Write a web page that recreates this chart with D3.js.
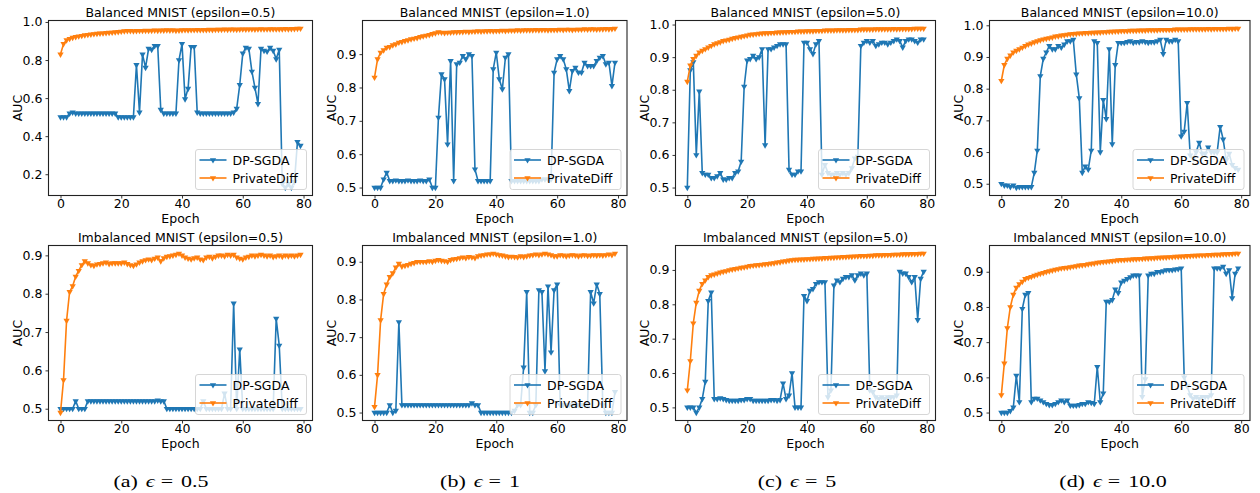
<!DOCTYPE html>
<html>
<head>
<meta charset="utf-8">
<script src="https://cdn.jsdelivr.net/npm/d3@7"></script>
<style>
  body { margin: 0; background: #fff; }
  svg text { font-family: "DejaVu Sans", sans-serif; fill: #000; }
  svg text.caption { font-family: "Liberation Serif", "DejaVu Serif", serif; }
</style>
</head>
<body>
<svg id="chart" width="1260" height="493"></svg>
<script>
'use strict';

// ---- data ----
var titles = [
  'Balanced MNIST (epsilon=0.5)', 'Balanced MNIST (epsilon=1.0)',
  'Balanced MNIST (epsilon=5.0)', 'Balanced MNIST (epsilon=10.0)',
  'Imbalanced MNIST (epsilon=0.5)', 'Imbalanced MNIST (epsilon=1.0)',
  'Imbalanced MNIST (epsilon=5.0)', 'Imbalanced MNIST (epsilon=10.0)'
];
var captionLabels = ['(a)', '(b)', '(c)', '(d)'];
var captionValues = ['0.5', '1', '5', '10.0'];
var seriesNames = ['DP-SGDA', 'PrivateDiff'];
var xTicks = [0, 20, 40, 60, 80];
var yTicks = [
  [0.2, 0.4, 0.6, 0.8, 1.0], [0.5, 0.6, 0.7, 0.8, 0.9],
  [0.5, 0.6, 0.7, 0.8, 0.9, 1.0], [0.5, 0.6, 0.7, 0.8, 0.9, 1.0],
  [0.5, 0.6, 0.7, 0.8, 0.9], [0.5, 0.6, 0.7, 0.8, 0.9],
  [0.5, 0.6, 0.7, 0.8, 0.9], [0.5, 0.6, 0.7, 0.8, 0.9]
];

// Balanced MNIST
var dpBal05 = [0.50,0.50,0.50,0.52,0.525,0.52,0.52,0.52,0.52,0.52,
  0.52,0.52,0.52,0.52,0.52,0.52,0.52,0.52,0.52,0.50,
  0.50,0.50,0.50,0.50,0.50,0.775,0.525,0.83,0.76,0.86,
  0.855,0.875,0.875,0.54,0.52,0.52,0.52,0.52,0.52,0.80,
  0.885,0.595,0.65,0.87,0.87,0.525,0.52,0.52,0.52,0.52,
  0.52,0.52,0.52,0.52,0.52,0.52,0.52,0.525,0.545,0.67,
  0.835,0.865,0.86,0.74,0.655,0.57,0.86,0.85,0.845,0.865,
  0.85,0.805,0.855,0.15,0.13,0.15,0.13,0.16,0.37,0.35];
var pdBal05 = [0.830,0.885,0.905,0.912,0.918,0.922,0.925,0.928,0.931,0.933,
  0.935,0.937,0.939,0.940,0.941,0.943,0.944,0.945,0.947,0.948,
  0.950,0.952,0.953,0.953,0.952,0.953,0.954,0.954,0.955,0.954,
  0.955,0.956,0.955,0.956,0.956,0.957,0.956,0.957,0.955,0.956,
  0.957,0.958,0.957,0.958,0.958,0.959,0.958,0.959,0.959,0.960,
  0.959,0.960,0.960,0.960,0.961,0.960,0.961,0.961,0.960,0.961,
  0.962,0.961,0.962,0.962,0.961,0.962,0.963,0.962,0.962,0.963,
  0.963,0.962,0.963,0.963,0.964,0.963,0.964,0.964,0.965,0.966];

var dpBal1 = [0.50,0.50,0.50,0.525,0.545,0.52,0.52,0.522,0.52,0.52,
  0.52,0.522,0.52,0.52,0.52,0.522,0.52,0.52,0.525,0.50,
  0.50,0.71,0.84,0.825,0.63,0.88,0.52,0.87,0.875,0.895,
  0.885,0.90,0.895,0.555,0.52,0.52,0.52,0.52,0.52,0.855,
  0.905,0.825,0.795,0.89,0.90,0.52,0.52,0.52,0.52,0.52,
  0.52,0.52,0.52,0.52,0.52,0.525,0.525,0.525,0.525,0.845,
  0.885,0.895,0.885,0.855,0.79,0.85,0.86,0.845,0.845,0.875,
  0.865,0.865,0.865,0.88,0.89,0.895,0.87,0.875,0.805,0.875];
var pdBal1 = [0.830,0.885,0.905,0.912,0.920,0.922,0.927,0.930,0.935,0.937,
  0.940,0.942,0.945,0.947,0.949,0.952,0.954,0.956,0.958,0.961,
  0.963,0.966,0.965,0.964,0.965,0.965,0.966,0.966,0.967,0.967,
  0.968,0.967,0.968,0.968,0.969,0.968,0.969,0.969,0.970,0.969,
  0.970,0.970,0.971,0.970,0.971,0.971,0.971,0.972,0.971,0.972,
  0.972,0.972,0.972,0.973,0.972,0.973,0.973,0.972,0.973,0.973,
  0.973,0.974,0.973,0.974,0.974,0.973,0.974,0.974,0.974,0.975,
  0.974,0.975,0.975,0.974,0.975,0.975,0.976,0.975,0.976,0.977];

var dpBal5 = [0.50,0.86,0.885,0.60,0.795,0.545,0.54,0.54,0.53,0.53,
  0.535,0.545,0.525,0.525,0.53,0.53,0.545,0.55,0.58,0.81,
  0.89,0.895,0.905,0.895,0.90,0.925,0.63,0.925,0.925,0.93,
  0.935,0.94,0.94,0.94,0.555,0.54,0.54,0.55,0.55,0.945,
  0.945,0.925,0.91,0.94,0.95,0.54,0.57,0.545,0.54,0.54,
  0.545,0.54,0.545,0.54,0.545,0.56,0.59,0.595,0.935,0.945,
  0.95,0.945,0.95,0.935,0.94,0.945,0.945,0.94,0.945,0.95,
  0.955,0.95,0.93,0.95,0.955,0.955,0.95,0.945,0.955,0.955];
var pdBal5 = [0.825,0.875,0.895,0.905,0.915,0.920,0.925,0.930,0.935,0.940,
  0.943,0.946,0.950,0.952,0.954,0.957,0.959,0.961,0.963,0.965,
  0.967,0.969,0.970,0.971,0.972,0.973,0.974,0.974,0.975,0.975,
  0.976,0.976,0.977,0.977,0.978,0.978,0.978,0.979,0.979,0.979,
  0.980,0.980,0.980,0.981,0.981,0.981,0.982,0.982,0.982,0.982,
  0.983,0.983,0.983,0.983,0.984,0.984,0.984,0.984,0.985,0.985,
  0.985,0.985,0.985,0.986,0.986,0.986,0.986,0.986,0.986,0.987,
  0.986,0.987,0.987,0.987,0.987,0.987,0.988,0.988,0.988,0.988];

var dpBal10 = [0.50,0.495,0.495,0.49,0.495,0.488,0.49,0.49,0.49,0.49,
  0.49,0.535,0.605,0.84,0.895,0.915,0.935,0.925,0.925,0.935,
  0.93,0.94,0.95,0.95,0.955,0.845,0.77,0.535,0.555,0.545,
  0.605,0.95,0.945,0.60,0.765,0.705,0.925,0.625,0.875,0.945,
  0.945,0.945,0.948,0.95,0.945,0.948,0.947,0.95,0.948,0.945,
  0.948,0.947,0.95,0.955,0.91,0.955,0.95,0.95,0.955,0.95,
  0.65,0.665,0.755,0.59,0.58,0.60,0.63,0.595,0.595,0.615,
  0.60,0.60,0.60,0.68,0.64,0.575,0.595,0.56,0.55,0.545];
var pdBal10 = [0.825,0.875,0.895,0.905,0.915,0.920,0.925,0.930,0.935,0.940,
  0.943,0.947,0.950,0.953,0.956,0.958,0.960,0.962,0.965,0.966,
  0.968,0.969,0.971,0.972,0.973,0.974,0.975,0.975,0.976,0.976,
  0.977,0.977,0.978,0.978,0.979,0.979,0.980,0.980,0.981,0.981,
  0.982,0.982,0.982,0.983,0.983,0.983,0.984,0.984,0.984,0.985,
  0.985,0.985,0.985,0.986,0.986,0.986,0.986,0.986,0.987,0.987,
  0.987,0.987,0.987,0.988,0.988,0.988,0.988,0.988,0.988,0.989,
  0.988,0.989,0.989,0.989,0.989,0.989,0.990,0.989,0.990,0.990];

// Imbalanced MNIST
var dpImb05 = [0.50,0.50,0.50,0.50,0.50,0.52,0.50,0.50,0.50,0.52,
  0.52,0.52,0.52,0.52,0.52,0.52,0.52,0.52,0.52,0.52,
  0.52,0.52,0.52,0.52,0.52,0.52,0.52,0.52,0.52,0.52,
  0.52,0.52,0.522,0.52,0.52,0.50,0.50,0.50,0.50,0.50,
  0.50,0.50,0.50,0.50,0.50,0.50,0.50,0.52,0.50,0.50,
  0.50,0.50,0.50,0.50,0.54,0.50,0.50,0.775,0.50,0.655,
  0.50,0.50,0.50,0.50,0.50,0.50,0.50,0.50,0.50,0.50,
  0.50,0.735,0.665,0.50,0.50,0.50,0.50,0.50,0.50,0.50];
var pdImb05 = [0.490,0.575,0.730,0.805,0.820,0.845,0.860,0.875,0.885,0.880,
  0.875,0.873,0.877,0.878,0.880,0.882,0.878,0.880,0.880,0.880,
  0.880,0.882,0.878,0.875,0.873,0.877,0.882,0.885,0.888,0.890,
  0.888,0.892,0.895,0.885,0.893,0.897,0.898,0.900,0.902,0.905,
  0.900,0.895,0.892,0.890,0.893,0.895,0.890,0.888,0.895,0.897,
  0.893,0.897,0.900,0.900,0.898,0.902,0.900,0.902,0.895,0.892,
  0.890,0.895,0.897,0.900,0.898,0.900,0.902,0.900,0.898,0.900,
  0.896,0.898,0.900,0.897,0.900,0.898,0.900,0.898,0.900,0.902];

var dpImb1 = [0.50,0.50,0.50,0.50,0.50,0.52,0.50,0.505,0.74,0.52,
  0.52,0.52,0.52,0.52,0.52,0.52,0.52,0.52,0.52,0.52,
  0.52,0.52,0.52,0.52,0.52,0.52,0.52,0.52,0.52,0.52,
  0.52,0.52,0.525,0.52,0.52,0.50,0.50,0.50,0.50,0.50,
  0.50,0.50,0.50,0.50,0.50,0.50,0.505,0.52,0.52,0.62,
  0.82,0.50,0.50,0.52,0.825,0.82,0.61,0.835,0.66,0.825,
  0.84,0.52,0.52,0.52,0.52,0.52,0.52,0.52,0.52,0.52,
  0.52,0.82,0.79,0.84,0.815,0.52,0.50,0.50,0.50,0.555];
var pdImb1 = [0.515,0.600,0.745,0.815,0.840,0.860,0.870,0.885,0.895,0.888,
  0.890,0.892,0.895,0.897,0.900,0.900,0.900,0.900,0.902,0.900,
  0.903,0.905,0.903,0.902,0.900,0.905,0.907,0.908,0.910,0.912,
  0.910,0.913,0.912,0.910,0.915,0.917,0.918,0.920,0.920,0.922,
  0.920,0.918,0.917,0.915,0.913,0.914,0.913,0.912,0.915,0.913,
  0.915,0.917,0.918,0.920,0.918,0.920,0.922,0.920,0.918,0.915,
  0.915,0.918,0.917,0.915,0.917,0.918,0.917,0.915,0.917,0.918,
  0.916,0.917,0.918,0.917,0.918,0.917,0.918,0.920,0.918,0.922];

var dpImb5 = [0.50,0.50,0.50,0.485,0.50,0.525,0.575,0.81,0.835,0.525,
  0.525,0.527,0.525,0.522,0.52,0.52,0.52,0.52,0.522,0.522,
  0.525,0.525,0.52,0.52,0.52,0.52,0.52,0.52,0.522,0.522,
  0.52,0.522,0.57,0.525,0.535,0.60,0.50,0.50,0.50,0.825,
  0.81,0.84,0.845,0.86,0.865,0.865,0.865,0.53,0.55,0.855,
  0.87,0.865,0.875,0.88,0.88,0.885,0.87,0.885,0.89,0.885,
  0.89,0.55,0.545,0.53,0.525,0.53,0.525,0.53,0.53,0.53,
  0.535,0.895,0.89,0.89,0.88,0.865,0.88,0.755,0.875,0.895];
var pdImb5 = [0.550,0.635,0.745,0.805,0.840,0.860,0.870,0.880,0.885,0.887,
  0.890,0.893,0.895,0.897,0.900,0.902,0.903,0.905,0.907,0.908,
  0.910,0.912,0.913,0.914,0.915,0.916,0.917,0.918,0.919,0.920,
  0.922,0.923,0.925,0.926,0.928,0.929,0.930,0.930,0.931,0.931,
  0.932,0.932,0.933,0.933,0.934,0.934,0.935,0.935,0.936,0.936,
  0.937,0.937,0.938,0.938,0.939,0.939,0.940,0.940,0.941,0.941,
  0.941,0.942,0.942,0.943,0.943,0.943,0.944,0.944,0.944,0.945,
  0.945,0.945,0.946,0.946,0.946,0.947,0.947,0.947,0.948,0.948];

var dpImb10 = [0.50,0.50,0.50,0.505,0.515,0.605,0.53,0.795,0.835,0.84,
  0.53,0.54,0.54,0.535,0.53,0.525,0.522,0.522,0.525,0.53,
  0.535,0.53,0.535,0.52,0.52,0.52,0.522,0.525,0.525,0.53,
  0.528,0.525,0.63,0.53,0.555,0.815,0.815,0.82,0.85,0.84,
  0.87,0.875,0.88,0.885,0.89,0.89,0.89,0.545,0.595,0.89,
  0.895,0.895,0.90,0.90,0.902,0.905,0.905,0.905,0.907,0.908,
  0.91,0.60,0.575,0.55,0.54,0.545,0.54,0.545,0.545,0.545,
  0.55,0.91,0.91,0.91,0.915,0.895,0.905,0.825,0.895,0.91];
var pdImb10 = [0.550,0.640,0.740,0.800,0.835,0.855,0.865,0.872,0.880,0.883,
  0.886,0.889,0.892,0.895,0.897,0.900,0.902,0.904,0.906,0.908,
  0.910,0.911,0.912,0.913,0.915,0.916,0.918,0.919,0.920,0.922,
  0.923,0.924,0.926,0.927,0.928,0.929,0.930,0.931,0.932,0.933,
  0.934,0.934,0.935,0.935,0.936,0.936,0.937,0.937,0.938,0.938,
  0.939,0.939,0.940,0.940,0.941,0.941,0.942,0.942,0.943,0.943,
  0.944,0.944,0.945,0.945,0.946,0.946,0.947,0.947,0.947,0.948,
  0.948,0.949,0.949,0.949,0.950,0.950,0.951,0.951,0.952,0.952];

var dpSeries = [dpBal05, dpBal1, dpBal5, dpBal10, dpImb05, dpImb1, dpImb5, dpImb10];
var pdSeries = [pdBal05, pdBal1, pdBal5, pdBal10, pdImb05, pdImb1, pdImb5, pdImb10];

// ---- layout ----
var colors = ['#1f77b4', '#ff7f0e'];
var boxLeft = [48.5, 362.5, 675.5, 989.5];
var boxRight = [312.5, 627, 935.5, 1250];
var boxTop = [20.5, 245.5];
var boxBottom = [195.5, 420.5];
var captionX = [161, 480, 797, 1113];
var fontSize = 12.5;

var svg = d3.select('#chart');
svg.append('rect').attr('width', 1260).attr('height', 493).attr('fill', '#fff');

var tri = d3.symbol().type(d3.symbolTriangle).size(17);

titles.forEach(function (title, i) {
  var col = i % 4, row = Math.floor(i / 4);
  var left = boxLeft[col], right = boxRight[col], top = boxTop[row], bottom = boxBottom[row];
  var series = [dpSeries[i], pdSeries[i]];

  // matplotlib-like 5% margins
  var all = series[0].concat(series[1]);
  var lo = d3.min(all), hi = d3.max(all), pad = (hi - lo) * 0.05;
  var n = series[0].length;
  var xPad = (n - 1) * 0.05;
  var x = d3.scaleLinear().domain([-xPad, n - 1 + xPad]).range([left, right]);
  var y = d3.scaleLinear().domain([lo - pad, hi + pad]).range([bottom, top]);

  var g = svg.append('g');

  var xAxis = g.append('g').attr('transform', 'translate(0,' + bottom + ')')
    .call(d3.axisBottom(x).tickValues(xTicks).tickSize(3).tickPadding(1).tickFormat(d3.format('d')));
  var yAxis = g.append('g').attr('transform', 'translate(' + left + ',0)')
    .call(d3.axisLeft(y).tickValues(yTicks[i]).tickSize(3).tickPadding(3).tickFormat(d3.format('.1f')));
  [xAxis, yAxis].forEach(function (a) {
    a.select('.domain').remove();
    a.attr('font-family', null).attr('font-size', null);
    a.selectAll('line').attr('stroke', '#222').attr('stroke-width', 0.9);
    a.selectAll('text').style('font-size', fontSize + 'px').attr('fill', '#000');
  });

  // lines + markers
  var plot = g.append('g');
  var line = d3.line().x(function (d, j) { return x(j); }).y(function (d) { return y(d); });
  series.forEach(function (s, k) {
    plot.append('path').datum(s)
      .attr('d', line).attr('fill', 'none')
      .attr('stroke', colors[k]).attr('stroke-width', 1.6).attr('stroke-linejoin', 'round');
    plot.selectAll(null).data(s).enter().append('path')
      .attr('d', tri)
      .attr('transform', function (d, j) { return 'translate(' + x(j) + ',' + y(d) + ') rotate(180)'; })
      .attr('fill', colors[k]);
  });

  // frame
  g.append('rect').attr('x', left).attr('y', top)
    .attr('width', right - left).attr('height', bottom - top)
    .attr('fill', 'none').attr('stroke', '#222').attr('stroke-width', 1.1);

  // titles and labels
  g.append('text').attr('x', (left + right) / 2).attr('y', top - 3.5)
    .attr('text-anchor', 'middle').style('font-size', fontSize + 'px').text(title);
  g.append('text').attr('x', (left + right) / 2).attr('y', bottom + 27.5)
    .attr('text-anchor', 'middle').style('font-size', fontSize + 'px').text('Epoch');
  g.append('text')
    .attr('transform', 'translate(' + (left - 27) + ',' + ((top + bottom) / 2) + ') rotate(-90)')
    .attr('text-anchor', 'middle').style('font-size', fontSize + 'px').text('AUC');

  // legend, lower right
  var lw = 111, lh = 40;
  var leg = g.append('g').attr('transform', 'translate(' + (right - 6 - lw) + ',' + (bottom - 6 - lh) + ')');
  leg.append('rect').attr('width', lw).attr('height', lh).attr('rx', 2.5)
    .attr('fill', '#fff').attr('fill-opacity', 0.8).attr('stroke', '#ccc').attr('stroke-width', 0.8);
  seriesNames.forEach(function (name, k) {
    var ly = 10.5 + k * 18;
    leg.append('line').attr('x1', 4).attr('x2', 31).attr('y1', ly).attr('y2', ly)
      .attr('stroke', colors[k]).attr('stroke-width', 1.6);
    leg.append('path').attr('d', tri).attr('transform', 'translate(17.5,' + ly + ') rotate(180)')
      .attr('fill', colors[k]);
    leg.append('text').attr('x', 37).attr('y', ly).attr('dy', '0.36em')
      .style('font-size', fontSize + 'px').text(name);
  });
});

// sub-figure captions (the source image is squashed vertically, hence the y scale)
captionLabels.forEach(function (lab, c) {
  var t = svg.append('g').attr('transform', 'translate(' + captionX[c] + ',487) scale(1,0.72)')
    .append('text').attr('class', 'caption')
    .attr('x', 0).attr('y', 0).attr('text-anchor', 'middle')
    .style('font-size', '22px');
  t.append('tspan').text(lab);
  t.append('tspan').attr('dx', 8).style('font-style', 'italic').text('\u03F5');
  t.append('tspan').attr('dx', 6).text('=');
  t.append('tspan').attr('dx', 8).text(captionValues[c]);
});
</script>
</body>
</html>
